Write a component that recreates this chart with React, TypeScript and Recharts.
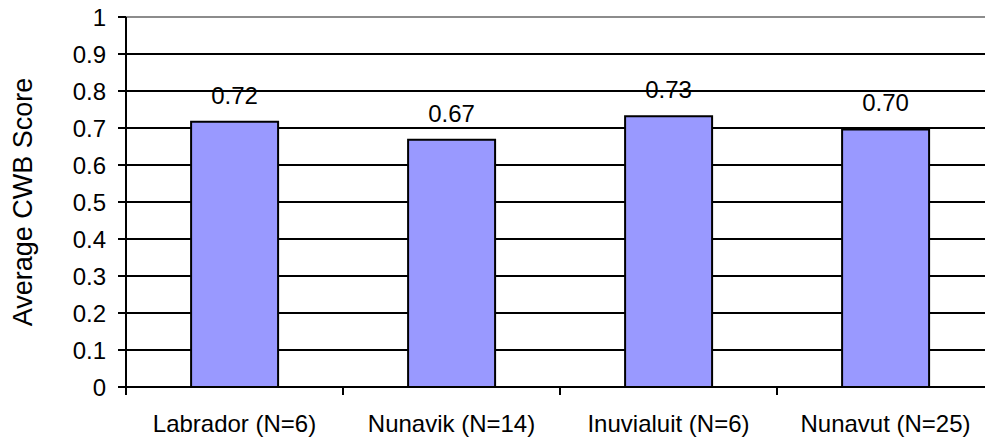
import { BarChart, Bar, XAxis, YAxis, CartesianGrid, LabelList, ReferenceLine } from "recharts";

const regions = ["Labrador (N=6)", "Nunavik (N=14)", "Inuvialuit (N=6)", "Nunavut (N=25)"];
const scores = [0.717, 0.668, 0.732, 0.696];
const yTicks = [0, 0.1, 0.2, 0.3, 0.4, 0.5, 0.6, 0.7, 0.8, 0.9, 1];

const data = regions.map((name, i) => ({ name, score: scores[i] }));

const FONT = "'Liberation Sans', Arial, sans-serif";
const TICK_SIZE = 8;
const TICK_MARGIN = 20;

// category labels, with tick marks on the band edges instead of the centres
const RegionTick = (props: any) => {
  const { x, y, payload, index } = props;
  const half = payload.offset ?? 0;
  const top = y - TICK_MARGIN - TICK_SIZE;
  return (
    <g>
      <line x1={x - half} x2={x - half} y1={top} y2={top + TICK_SIZE} stroke="#000" strokeWidth={2} />
      {index === regions.length - 1 && (
        <line x1={x + half} x2={x + half} y1={top} y2={top + TICK_SIZE} stroke="#000" strokeWidth={2} />
      )}
      <text x={x} y={y + 17} textAnchor="middle" fontSize={24} fontFamily={FONT} fill="#000">
        {payload.value}
      </text>
    </g>
  );
};

export default function App() {
  return (
    <div style={{ position: "absolute", left: 0, top: 0, width: 985, height: 440, overflow: "hidden", background: "#fff" }}>
      <BarChart
        width={994}
        height={440}
        data={data}
        margin={{ top: 17, right: 0, left: 0, bottom: 0 }}
        barCategoryGap="30%"
      >
        <CartesianGrid vertical={false} stroke="#000" strokeWidth={2} />
        <ReferenceLine y={1} stroke="#8c8c8c" strokeWidth={2} />
        <XAxis
          dataKey="name"
          height={53}
          axisLine={{ stroke: "#000", strokeWidth: 2 }}
          tickLine={false}
          tickSize={TICK_SIZE}
          tickMargin={TICK_MARGIN}
          interval={0}
          tick={<RegionTick />}
        />
        <YAxis
          width={126}
          domain={[0, 1]}
          ticks={yTicks}
          interval={0}
          axisLine={{ stroke: "#000", strokeWidth: 2 }}
          tickLine={{ stroke: "#000", strokeWidth: 2 }}
          tickSize={8}
          tickMargin={12}
          tickFormatter={(v: number) => String(v)}
          tick={{ fontSize: 24, fontFamily: FONT, fill: "#000" }}
          label={{
            value: "Average CWB Score",
            angle: -90,
            position: "center",
            dx: -41,
            style: { fontSize: 27, fontFamily: FONT, fill: "#000", textAnchor: "middle" },
          }}
        />
        <Bar dataKey="score" fill="#9999ff" stroke="#000" strokeWidth={2} isAnimationActive={false}>
          <LabelList
            dataKey="score"
            position="top"
            offset={18}
            formatter={(v: any) => Number(v).toFixed(2)}
            style={{ fontSize: 24, fontFamily: FONT, fill: "#000" }}
          />
        </Bar>
      </BarChart>
    </div>
  );
}
